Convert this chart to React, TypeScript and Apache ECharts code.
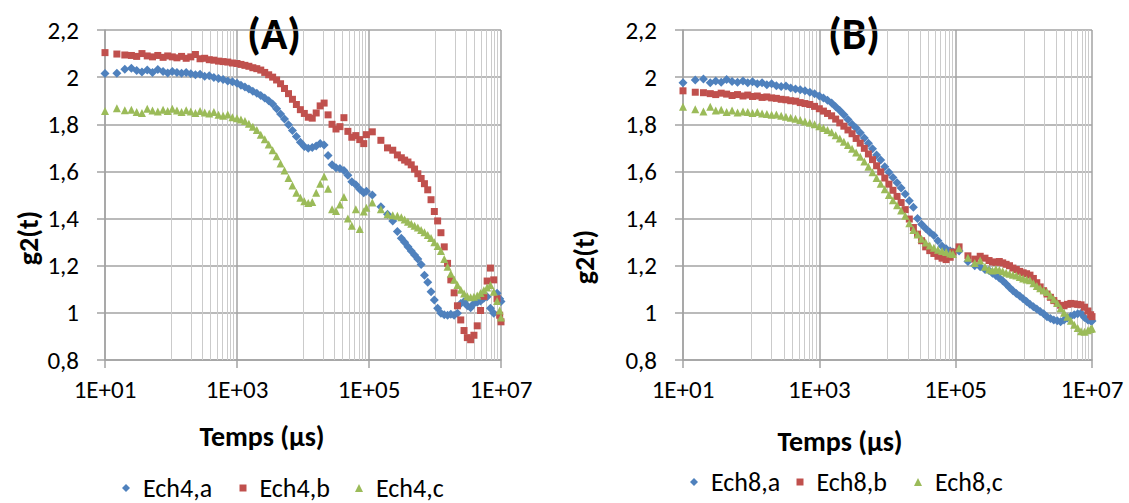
import React, { useEffect, useRef } from "react";
import * as echarts from "echarts";

// log10 of time (µs) for every measured point
const TIME_LOG10_US = [
  1.0, 1.18, 1.3, 1.4, 1.48, 1.56, 1.64, 1.72, 1.8, 1.88,
  1.95, 2.02, 2.09, 2.16, 2.23, 2.3, 2.37, 2.44, 2.51, 2.58,
  2.65, 2.72, 2.79, 2.86, 2.93, 3.0, 3.06, 3.12, 3.18, 3.24,
  3.3, 3.36, 3.42, 3.48, 3.54, 3.6, 3.66, 3.72, 3.78, 3.84,
  3.9, 3.96, 4.02, 4.08, 4.14, 4.2, 4.26, 4.32, 4.38, 4.44,
  4.5, 4.56, 4.62, 4.68, 4.74, 4.8, 4.86, 4.92, 4.96, 5.05,
  5.18, 5.28, 5.36, 5.43, 5.49, 5.54, 5.59, 5.64, 5.69, 5.74,
  5.79, 5.84, 5.89, 5.94, 5.99, 6.04, 6.09, 6.14, 6.19, 6.24,
  6.29, 6.34, 6.39, 6.44, 6.49, 6.54, 6.59, 6.64, 6.69, 6.74,
  6.79, 6.84, 6.89, 6.94, 6.98, 7.0,
];

const ECH4_A = [
  2.015, 2.017, 2.033, 2.038, 2.028, 2.022, 2.03, 2.02, 2.032, 2.024,
  2.018, 2.024, 2.02, 2.016, 2.02, 2.014, 2.01, 2.012, 2.004, 2.006,
  1.998, 1.994, 1.99, 1.984, 1.98, 1.974, 1.966, 1.958, 1.95, 1.94,
  1.932, 1.922, 1.912, 1.9, 1.886, 1.866, 1.844, 1.822, 1.798, 1.774,
  1.748, 1.724, 1.706, 1.698, 1.702, 1.708, 1.718, 1.712, 1.668, 1.628,
  1.616, 1.612, 1.604, 1.584, 1.556, 1.544, 1.524, 1.51, 1.516, 1.5,
  1.45, 1.418, 1.39, 1.345, 1.316, 1.3, 1.28, 1.262, 1.245, 1.228,
  1.205, 1.16, 1.13, 1.09, 1.055, 1.02, 0.998, 0.992, 0.99, 0.994,
  0.99, 0.998, 1.04, 1.048, 1.03, 1.022, 1.04, 1.045, 1.05, 1.062,
  1.068, 1.02, 0.998, 1.083, 1.06, 1.048,
];
const ECH4_B = [
  2.104, 2.098, 2.094, 2.092, 2.088, 2.1, 2.09, 2.086, 2.092, 2.084,
  2.09, 2.086, 2.082, 2.088, 2.08, 2.086, 2.096, 2.078, 2.08, 2.074,
  2.072, 2.068, 2.066, 2.064, 2.06, 2.058, 2.054, 2.05, 2.046, 2.04,
  2.036, 2.03, 2.02, 2.01, 2.0, 1.988, 1.972, 1.952, 1.93, 1.906,
  1.884, 1.862, 1.846, 1.83, 1.826, 1.848, 1.878, 1.89, 1.84, 1.8,
  1.78, 1.79, 1.828, 1.77, 1.745, 1.752, 1.735, 1.718, 1.756, 1.768,
  1.732, 1.7, 1.69, 1.67, 1.658, 1.648, 1.64, 1.628, 1.61, 1.59,
  1.57, 1.548, 1.522, 1.48, 1.43, 1.39, 1.34, 1.28, 1.21, 1.14,
  1.085, 1.03, 0.97, 0.925, 0.895, 0.886, 0.905, 0.945, 1.01, 1.07,
  1.135, 1.19, 1.14, 1.06, 0.99, 0.962,
];
const ECH4_C = [
  1.856, 1.868, 1.86, 1.862, 1.852, 1.848, 1.866, 1.858, 1.854, 1.862,
  1.856, 1.866, 1.858, 1.852, 1.86, 1.854, 1.848, 1.856, 1.85, 1.846,
  1.852, 1.84, 1.836, 1.842, 1.83, 1.826, 1.82, 1.814, 1.802, 1.79,
  1.776, 1.756, 1.736, 1.714, 1.69, 1.664, 1.634, 1.604, 1.572, 1.54,
  1.51, 1.488, 1.474, 1.466, 1.47, 1.51, 1.548, 1.578, 1.526, 1.44,
  1.432, 1.46, 1.492, 1.4, 1.37, 1.44, 1.356, 1.43, 1.446, 1.468,
  1.44, 1.418, 1.414, 1.412, 1.406, 1.396, 1.386, 1.378, 1.37, 1.362,
  1.352, 1.342, 1.33, 1.318, 1.3, 1.284, 1.262, 1.228, 1.196, 1.166,
  1.14, 1.118, 1.098, 1.082, 1.07, 1.066, 1.068, 1.074, 1.084, 1.096,
  1.108, 1.118, 1.09, 1.05, 1.01, 0.98,
];

const ECH8_A = [
  1.976, 1.988, 1.992, 1.976, 1.984, 1.978, 1.99, 1.982, 1.978, 1.984,
  1.976, 1.98, 1.972, 1.976, 1.968, 1.972, 1.964, 1.96, 1.962, 1.954,
  1.95, 1.946, 1.942, 1.936, 1.93, 1.92, 1.912, 1.902, 1.89, 1.874,
  1.858, 1.84, 1.82, 1.8, 1.784, 1.764, 1.742, 1.72, 1.696, 1.67,
  1.648, 1.62, 1.596, 1.574, 1.552, 1.53, 1.504, 1.476, 1.448, 1.4,
  1.376, 1.358, 1.342, 1.328, 1.306, 1.284, 1.272, 1.262, 1.258, 1.262,
  1.218, 1.2, 1.196, 1.184, 1.18, 1.168, 1.158, 1.148, 1.136, 1.122,
  1.108, 1.094, 1.082, 1.072, 1.06, 1.048, 1.036, 1.026, 1.016, 1.006,
  0.996, 0.984, 0.976, 0.97, 0.966, 0.962, 0.97, 0.978, 0.986, 0.992,
  0.996, 0.998, 0.98, 0.97, 0.966, 0.965,
];
const ECH8_B = [
  1.942, 1.936, 1.934, 1.93, 1.926, 1.932, 1.928, 1.922, 1.926, 1.92,
  1.924, 1.918, 1.92, 1.914, 1.916, 1.912, 1.91, 1.906, 1.904, 1.9,
  1.898, 1.892, 1.888, 1.884, 1.876, 1.866, 1.856, 1.846, 1.836, 1.822,
  1.806, 1.792, 1.776, 1.76, 1.74, 1.72, 1.698, 1.674, 1.65, 1.624,
  1.598, 1.572, 1.546, 1.52, 1.494, 1.468, 1.438, 1.398, 1.362, 1.334,
  1.306, 1.28, 1.264, 1.252, 1.24, 1.232, 1.226, 1.236, 1.258, 1.28,
  1.242, 1.228, 1.24, 1.232, 1.222, 1.216, 1.214, 1.218, 1.212, 1.206,
  1.2, 1.19, 1.184, 1.176, 1.17, 1.166, 1.16, 1.146, 1.128, 1.11,
  1.094, 1.08, 1.066, 1.052, 1.04, 1.032, 1.03, 1.036, 1.04, 1.038,
  1.036, 1.034, 1.024, 1.008, 0.992, 0.984,
];
const ECH8_C = [
  1.874, 1.864, 1.854, 1.874, 1.858, 1.862, 1.852, 1.858, 1.85, 1.854,
  1.852, 1.848, 1.852, 1.846, 1.844, 1.84, 1.842, 1.836, 1.832, 1.828,
  1.824, 1.818, 1.812, 1.806, 1.8, 1.792, 1.784, 1.776, 1.766, 1.754,
  1.74, 1.726, 1.712, 1.696, 1.68, 1.662, 1.642, 1.62, 1.596, 1.572,
  1.548, 1.524, 1.5, 1.478, 1.456, 1.434, 1.412, 1.38, 1.352, 1.332,
  1.314, 1.298, 1.286, 1.276, 1.268, 1.262, 1.258, 1.252, 1.25, 1.274,
  1.234, 1.212, 1.222, 1.196, 1.184, 1.18, 1.186, 1.182, 1.176, 1.17,
  1.166, 1.162, 1.158, 1.152, 1.146, 1.142, 1.138, 1.126, 1.114, 1.104,
  1.096, 1.088, 1.074, 1.058, 1.042, 1.02, 1.0, 0.984, 0.966, 0.95,
  0.936, 0.922, 0.92, 0.926, 0.932, 0.934,
];

const SERIES_A = ["Ech4,a", "Ech4,b", "Ech4,c"];
const SERIES_B = ["Ech8,a", "Ech8,b", "Ech8,c"];
const PANEL_TITLES = ["(A)", "(B)"];
const X_TITLE = "Temps (µs)";
const Y_TITLE = "g2(t)";
// decades (exponents) carrying the light minor grid lines
const MINOR_DECADES = [2, 4, 6];
const MINOR_MULTIPLIERS = [1, 2, 3, 4, 5, 6, 7, 8, 9];

const FONT = "Carlito, Lato, 'Open Sans', sans-serif";
const COLORS = ["#4F81BD", "#C0504D", "#9BBB59"];
const SYMBOLS = ["diamond", "rect", "triangle"];
const SYMBOL_SIZES = [9, 7, 8];
const LEGEND_SIZES = [8, 7, 8];
const MAJOR = "#a3a3a3";
const MINOR = "#cbcbcb";

export default function App() {
  const ref = useRef<HTMLDivElement>(null);

  useEffect(() => {
    if (!ref.current) return;
    const chart = echarts.init(ref.current, undefined, { renderer: "svg" });

    const minorExp: number[] = [];
    MINOR_DECADES.forEach((d) =>
      MINOR_MULTIPLIERS.forEach((m) => minorExp.push(d + Math.log10(m)))
    );

    const xAxis = (gi: number) => ({
      type: "value",
      gridIndex: gi,
      min: 1,
      max: 7,
      interval: 2,
      axisLine: { show: true, onZero: false, lineStyle: { color: MAJOR, width: 1.5 } },
      axisTick: { show: true, inside: false, length: 8, lineStyle: { color: MAJOR, width: 1.5 } },
      axisLabel: {
        color: "#000",
        fontSize: 25,
        fontFamily: FONT,
        margin: 17,
        formatter: (v: number) => "1E+" + String(Math.round(v)).padStart(2, "0"),
      },
      splitLine: { show: true, lineStyle: { color: MAJOR, width: 1.5 } },
    });
    const yAxis = (gi: number) => ({
      type: "value",
      gridIndex: gi,
      min: 0.8,
      max: 2.2,
      interval: 0.2,
      axisLine: { show: true, onZero: false, lineStyle: { color: MAJOR, width: 1.5 } },
      axisTick: { show: true, inside: false, length: 8, lineStyle: { color: MAJOR, width: 1.5 } },
      axisLabel: {
        color: "#000",
        fontSize: 25,
        fontFamily: FONT,
        margin: 26,
        formatter: (v: number) => String(Math.round(v * 10) / 10).replace(".", ","),
      },
      splitLine: { show: true, lineStyle: { color: MAJOR, width: 1.5 } },
    });

    const makeSeries = (name: string, values: number[], k: number, gi: number) => {
      const s: any = {
        name,
        type: "scatter",
        xAxisIndex: gi,
        yAxisIndex: gi,
        symbol: SYMBOLS[k],
        symbolSize: SYMBOL_SIZES[k],
        itemStyle: { color: COLORS[k], opacity: 1 },
        z: 2 + k,
        data: TIME_LOG10_US.map((t, i) => [t, values[i]]),
      };
      if (k === 0) {
        s.markLine = {
          silent: true,
          symbol: ["none", "none"],
          z: 1,
          label: { show: false },
          lineStyle: { color: MINOR, width: 1, type: "solid" },
          emphasis: { disabled: true },
          data: minorExp.map((e) => ({ xAxis: e })),
        };
      }
      return s;
    };

    const legendItem = (name: string, k: number, iconCenter: number, midY: number) => ({
      data: [{ name, icon: SYMBOLS[k] }],
      left: iconCenter - LEGEND_SIZES[k] / 2 - 5,
      top: midY - 13 - 5,
      itemWidth: LEGEND_SIZES[k],
      itemHeight: LEGEND_SIZES[k],
      itemGap: 0,
      selectedMode: false,
      textStyle: { fontSize: 26, color: "#000", fontFamily: FONT, padding: [0, 0, 0, 8] },
    });

    const text = (t: string, x: number, y: number, size: number, rot = 0) => ({
      type: "text",
      x,
      y,
      rotation: rot,
      silent: true,
      style: {
        text: t,
        fill: "#000",
        font: `bold ${size}px ${FONT}`,
        textAlign: "center",
        textVerticalAlign: "middle",
        align: "center",
        verticalAlign: "middle",
      },
    });

    chart.setOption({
      animation: false,
      backgroundColor: "#fff",
      grid: [
        { left: 105, top: 30, width: 396, height: 330, containLabel: false },
        { left: 683, top: 30, width: 409, height: 330, containLabel: false },
      ],
      xAxis: [xAxis(0), xAxis(1)],
      yAxis: [yAxis(0), yAxis(1)],
      legend: [
        legendItem(SERIES_A[0], 0, 126, 488),
        legendItem(SERIES_A[1], 1, 243, 488),
        legendItem(SERIES_A[2], 2, 359, 488),
        legendItem(SERIES_B[0], 0, 694, 482),
        legendItem(SERIES_B[1], 1, 800, 482),
        legendItem(SERIES_B[2], 2, 918, 482),
      ],
      graphic: [
        text(PANEL_TITLES[0], 274, 34, 44),
        text(PANEL_TITLES[1], 854, 34, 44),
        text(X_TITLE, 262, 436, 28),
        text(X_TITLE, 840, 441, 28),
        text(Y_TITLE, 28, 238, 28, Math.PI / 2),
        text(Y_TITLE, 584, 257, 28, Math.PI / 2),
      ],
      series: [
        makeSeries(SERIES_A[0], ECH4_A, 0, 0),
        makeSeries(SERIES_A[1], ECH4_B, 1, 0),
        makeSeries(SERIES_A[2], ECH4_C, 2, 0),
        makeSeries(SERIES_B[0], ECH8_A, 0, 1),
        makeSeries(SERIES_B[1], ECH8_B, 1, 1),
        makeSeries(SERIES_B[2], ECH8_C, 2, 1),
      ],
    });

    return () => chart.dispose();
  }, []);

  return (
    <div
      ref={ref}
      style={{ position: "absolute", left: 0, top: 0, width: 1129, height: 503, background: "#fff" }}
    />
  );
}
